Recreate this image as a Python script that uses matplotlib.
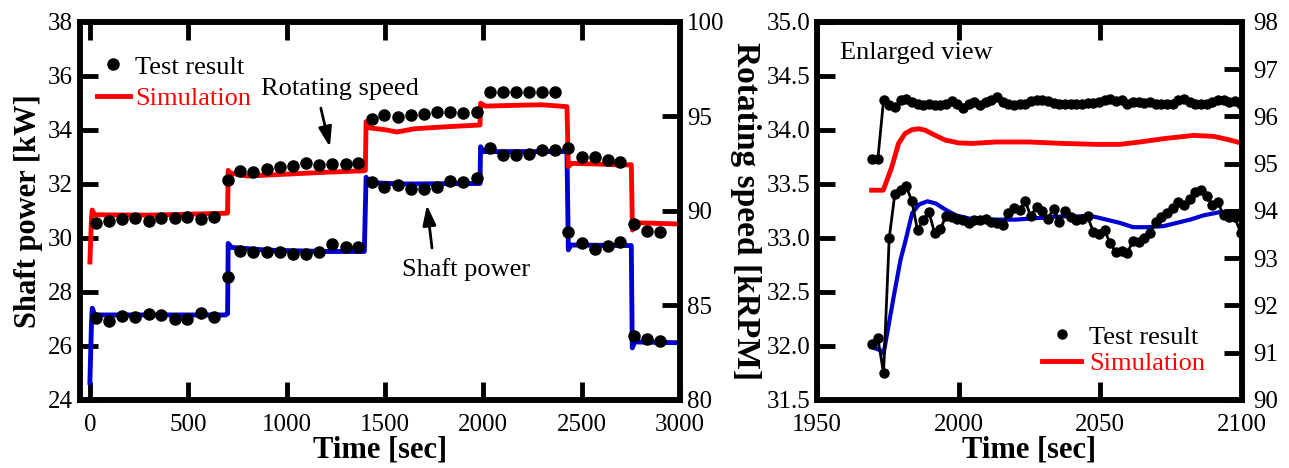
import matplotlib
matplotlib.use("Agg")
import matplotlib.pyplot as plt
from matplotlib.lines import Line2D
from matplotlib.ticker import FormatStrFormatter

plt.rcParams["font.family"] = ["Liberation Serif", "DejaVu Serif"]

RED = "#ff0000"
BLUE = "#0000d0"

# ---- full test run (left panel) ----
# test samples, roughly every 67 s
test_t = [29, 97, 164, 229, 300, 364, 432, 496, 563, 630,
          700, 764, 830, 898, 966, 1030, 1098, 1164, 1232, 1300, 1364,
          1432, 1496, 1564, 1632, 1700, 1766, 1830, 1898, 1966,
          2034, 2098, 2164, 2232, 2297, 2364,
          2432,
          2503, 2567, 2632, 2694,
          2767, 2833, 2898]
test_speed = [89.35, 89.49, 89.56, 89.61, 89.49, 89.61, 89.65, 89.67, 89.56, 89.70,
              91.64, 92.13, 92.08, 92.22, 92.35, 92.40, 92.56, 92.43, 92.47, 92.49, 92.56,
              94.85, 95.08, 94.96, 95.08, 95.13, 95.22, 95.22, 95.17, 95.22,
              96.31, 96.31, 96.31, 96.31, 96.31, 96.31,
              93.32,
              92.84, 92.84, 92.70, 92.58,
              89.31, 88.96, 88.91]
test_power = [27.03, 26.93, 27.12, 27.09, 27.17, 27.15, 27.00, 26.99, 27.23, 27.09,
              28.54, 29.53, 29.49, 29.49, 29.49, 29.41, 29.41, 29.49, 29.78, 29.66, 29.66,
              32.09, 31.88, 31.96, 31.81, 31.81, 31.90, 32.12, 32.06, 32.21,
              33.32, 33.07, 33.07, 33.11, 33.26, 33.26,
              30.23,
              29.80, 29.59, 29.72, 29.84,
              26.38, 26.26, 26.20]

# simulation, breakpoints
sim_speed_t = [0, 8, 12, 25, 300, 690, 700, 703, 715, 800, 1000, 1200, 1395, 1400,
               1404, 1420, 1500, 1560, 1650, 1800, 1983, 1986, 2010, 2200, 2300, 2425,
               2432, 2450, 2600, 2700, 2752, 2758, 2770, 3000]
sim_speed = [87.3, 89.6, 90.05, 89.8, 89.78, 89.88, 89.9, 92.15, 92.0, 91.85, 91.95, 92.05, 92.13, 92.15,
             94.73, 94.4, 94.3, 94.18, 94.35, 94.45, 94.55, 95.7, 95.55, 95.6, 95.62, 95.52,
             92.35, 92.52, 92.48, 92.43, 92.45, 88.99, 89.38, 89.31]
sim_power_t = [0, 8, 12, 25, 690, 700, 703, 720, 900, 1200, 1395, 1404, 1420, 1600, 1983,
               1986, 2000, 2200, 2425, 2432, 2445, 2752, 2757, 2770, 3000]
sim_power = [24.65, 26.8, 27.4, 27.15, 27.15, 27.2, 29.8, 29.65, 29.55, 29.5, 29.5, 32.25, 32.05, 32.0, 32.02,
             33.38, 33.2, 33.2, 33.2, 29.56, 29.74, 29.72, 25.93, 26.15, 26.12]

# ---- enlarged view (right panel) ----
zoom_t = [1969.5, 1971.5, 1973.5, 1975.5, 1977.5, 1979.5, 1981.5, 1983.5, 1985.5, 1987.5,
          1989.5, 1991.5, 1993.5, 1995.5, 1997.5, 1999.5, 2001.5, 2003.5, 2005.5, 2007.5,
          2009.5, 2011.5, 2013.5, 2015.5, 2017.5, 2019.5, 2021.5, 2023.5, 2025.5, 2027.5,
          2029.5, 2031.5, 2033.5, 2035.5, 2037.5, 2039.5, 2041.5, 2043.5, 2045.5, 2047.5,
          2049.5, 2051.5, 2053.5, 2055.5, 2057.5, 2059.5, 2061.5, 2063.5, 2065.5, 2067.5,
          2069.5, 2071.5, 2073.5, 2075.5, 2077.5, 2079.5, 2081.5, 2083.5, 2085.5, 2087.5,
          2089.5, 2091.5, 2093.5, 2095.5, 2097.5, 2099.5]
zoom_test_speed = [95.10, 95.11, 96.34, 96.24, 96.20, 96.34, 96.36, 96.31, 96.27, 96.24,
                   96.26, 96.24, 96.25, 96.27, 96.33, 96.27, 96.19, 96.27, 96.31, 96.24,
                   96.31, 96.34, 96.41, 96.31, 96.26, 96.24, 96.26, 96.27, 96.33, 96.34,
                   96.34, 96.32, 96.29, 96.26, 96.26, 96.26, 96.26, 96.27, 96.29, 96.29,
                   96.31, 96.34, 96.36, 96.33, 96.34, 96.27, 96.31, 96.31, 96.29, 96.31,
                   96.27, 96.26, 96.26, 96.27, 96.34, 96.36, 96.31, 96.27, 96.26, 96.27,
                   96.31, 96.34, 96.34, 96.31, 96.33, 96.27]
zoom_test_power = [32.02, 32.07, 31.75, 33.00, 33.41, 33.44, 33.48, 33.34, 33.07, 33.17,
                   33.24, 33.05, 33.08, 33.20, 33.19, 33.18, 33.17, 33.14, 33.17, 33.17,
                   33.18, 33.15, 33.14, 33.12, 33.23, 33.28, 33.26, 33.34, 33.20, 33.29,
                   33.25, 33.18, 33.27, 33.15, 33.25, 33.19, 33.17, 33.18, 33.20, 33.06,
                   33.04, 33.07, 32.95, 32.87, 32.88, 32.86, 32.97, 32.96, 33.00, 33.05,
                   33.15, 33.19, 33.23, 33.28, 33.33, 33.31, 33.36, 33.43, 33.44, 33.39,
                   33.31, 33.33, 33.21, 33.19, 33.19, 33.05]
zoom_sim_speed_t = [1969.3, 1973.4, 1976.4, 1978.8, 1981.1, 1983.5, 1985.9, 1988.2, 1991.8, 1995.3,
                    2000.1, 2004.8, 2013.1, 2024.9, 2036.8, 2048.6, 2056.9, 2064.0, 2072.3, 2082.9,
                    2090.0, 2095.9, 2099.5]
zoom_sim_speed = [94.44, 94.44, 94.93, 95.43, 95.64, 95.72, 95.74, 95.71, 95.60, 95.50,
                  95.44, 95.43, 95.46, 95.46, 95.43, 95.41, 95.41, 95.46, 95.53, 95.60,
                  95.58, 95.50, 95.44]
zoom_sim_power_t = [1969.4, 1972.4, 1973.5, 1974.8, 1977.1, 1979.5, 1981.2, 1983.6, 1986.0, 1989.0,
                    1991.9, 1995.5, 1999.0, 2003.7, 2010.8, 2020.3, 2025.0, 2036.8, 2047.4, 2052.2,
                    2056.9, 2061.6, 2066.4, 2072.3, 2077.0, 2081.7, 2086.5, 2092.4, 2099.5]
zoom_sim_power = [31.99, 31.96, 31.93, 32.12, 32.46, 32.80, 32.97, 33.23, 33.31, 33.34,
                  33.32, 33.26, 33.21, 33.18, 33.17, 33.17, 33.18, 33.20, 33.20, 33.17,
                  33.14, 33.10, 33.10, 33.11, 33.14, 33.17, 33.21, 33.24, 33.25]


def style(ax):
    for s in ax.spines.values():
        s.set_linewidth(4)
    ax.tick_params(direction="in", length=13, width=3.5, labelsize=18, pad=5)


fig = plt.figure(figsize=(12.89, 4.68), dpi=100)

# left panel
ax1 = fig.add_axes([0.0621, 0.1453, 0.4655, 0.8077])
ax1b = ax1.twinx()
style(ax1)
style(ax1b)
ax1.tick_params(axis="x", top=True, pad=10)

ax1.plot(sim_power_t, sim_power, color=BLUE, lw=3.5)
ax1.plot(test_t, test_power, "o", color="k", ms=8)
ax1b.plot(sim_speed_t, sim_speed, color=RED, lw=3.5)
ax1b.plot(test_t, test_speed, "o", color="k", ms=8)

ax1.set_xlim(-50, 3000)
ax1.set_ylim(24, 38)
ax1b.set_ylim(80, 100)
ax1.set_xticks(range(0, 3001, 500))
ax1.set_yticks(range(24, 39, 2))
ax1b.set_yticks(range(80, 101, 5))

ax1.set_xlabel("Time [sec]", fontsize=22, fontweight="bold", labelpad=0)
ax1.set_ylabel("Shaft power [kW]", fontsize=22, fontweight="bold", labelpad=4)
ax1b.set_ylabel("Rotating speed [kRPM]", fontsize=24, fontweight="bold",
                rotation=270, va="bottom", labelpad=4)

arrow = dict(arrowstyle="-|>,head_length=0.6,head_width=0.2", color="k", lw=2,
             mutation_scale=20, shrinkA=0, shrinkB=0)
ax1.text(1271, 35.5, "Rotating speed", ha="center", va="center", fontsize=19)
ax1.annotate("", xy=(1220, 33.37), xytext=(1174, 34.81), arrowprops=arrow)
ax1.text(1912, 28.85, "Shaft power", ha="center", va="center", fontsize=19)
ax1.annotate("", xy=(1713, 31.22), xytext=(1739, 29.63), arrowprops=arrow)

h_test = Line2D([], [], ls="none", marker="o", color="k", ms=8)
h_sim = Line2D([], [], color=RED, lw=3.5)
leg = ax1b.legend([h_test, h_sim], ["Test result", "Simulation"], loc="upper left",
                  bbox_to_anchor=(0.028, 0.912), frameon=False, fontsize=19,
                  handlelength=1.25, handletextpad=0.2, labelspacing=0.3,
                  borderpad=0, borderaxespad=0)
leg.get_texts()[1].set_color(RED)

# right panel
ax2 = fig.add_axes([0.6338, 0.1453, 0.3297, 0.8077])
ax2b = ax2.twinx()
style(ax2)
style(ax2b)
ax2.tick_params(axis="x", top=True, pad=10)

ax2.plot(zoom_sim_power_t, zoom_sim_power, color=BLUE, lw=3)
ax2.plot(zoom_t, zoom_test_power, "-o", color="k", lw=2, ms=6.5)
ax2b.plot(zoom_sim_speed_t, zoom_sim_speed, color=RED, lw=3.5)
ax2b.plot(zoom_t, zoom_test_speed, "-o", color="k", lw=2, ms=6.5)

ax2.set_xlim(1950, 2100)
ax2.set_ylim(31.5, 35.0)
ax2b.set_ylim(90, 98)
ax2.set_xticks([1950, 2000, 2050, 2100])
ax2.set_yticks([31.5, 32.0, 32.5, 33.0, 33.5, 34.0, 34.5, 35.0])
ax2.yaxis.set_major_formatter(FormatStrFormatter("%.1f"))
ax2b.set_yticks(range(90, 99))
ax2b.tick_params(axis="y", pad=8)
ax2.set_xlabel("Time [sec]", fontsize=22, fontweight="bold", labelpad=0)

ax2b.text(0.054, 0.918, "Enlarged view", transform=ax2b.transAxes,
          va="center", fontsize=19)

h_test2 = Line2D([], [], ls="none", marker="o", color="k", ms=6.5)
leg2 = ax2b.legend([h_test2, h_sim], ["Test result", "Simulation"], loc="upper left",
                   bbox_to_anchor=(0.529, 0.198), frameon=False, fontsize=19,
                   handlelength=1.5, handletextpad=0.3, labelspacing=0.1,
                   borderpad=0, borderaxespad=0)
leg2.get_texts()[1].set_color(RED)

fig.savefig("out.png", dpi=100)
